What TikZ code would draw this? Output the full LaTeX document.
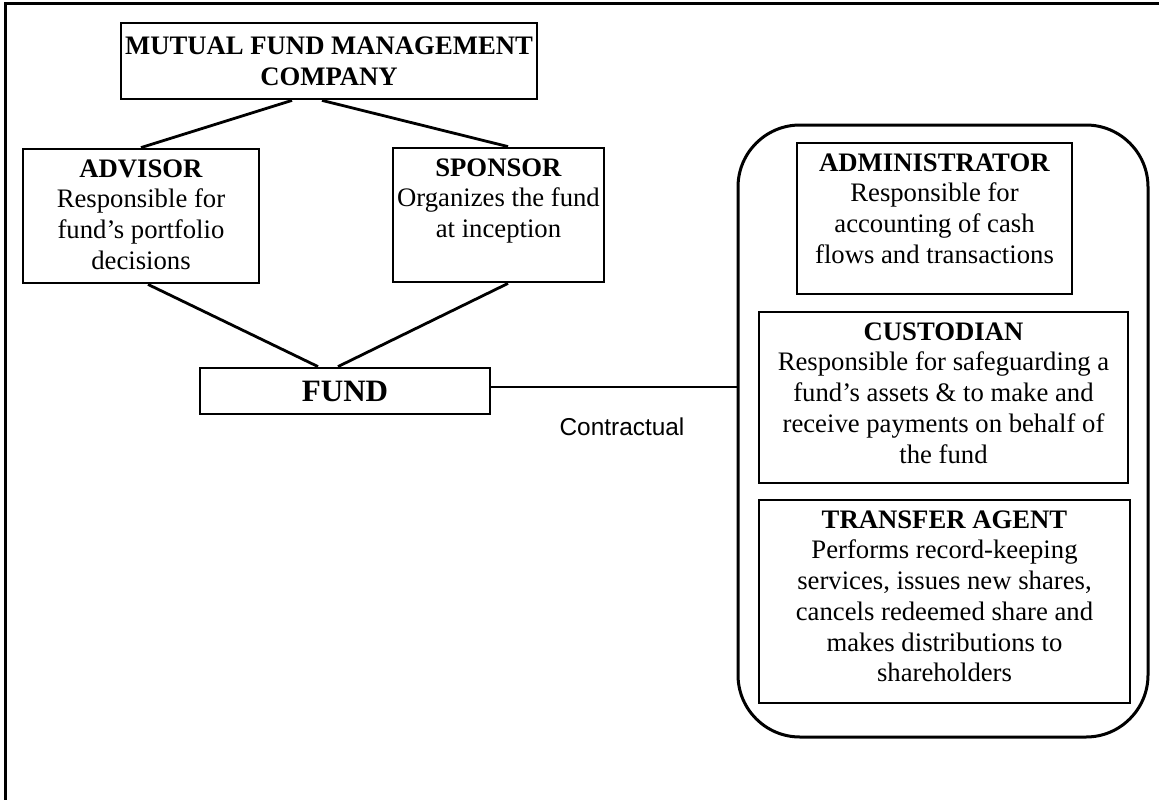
\documentclass[tikz,border=0pt]{standalone}
\usepackage{fontspec}
\setmainfont{Liberation Serif}
\newfontfamily\labelsans{Liberation Sans}
\begin{document}
\begin{tikzpicture}[x=1pt, y=-1pt]
\tikzset{
  boxframe/.style={draw, rectangle, line width=2.8pt, inner sep=0pt},
  bodytext/.style={inner sep=0pt, align=center, font=\fontsize{26.7}{30.7}\selectfont},
  link/.style={line width=2.8pt},
}
\useasboundingbox (0,0) rectangle (1159,800);

% page rule along the top and left edges
\draw[line width=3pt] (5,800) -- (5,4) -- (1159,4);

% management company
\node[boxframe, minimum width=416pt, minimum height=76pt, bodytext, font=\fontsize{26.7}{30.7}\selectfont\bfseries]
  (mfmc) at (329,61) {MUTUAL FUND MANAGEMENT\\COMPANY};

% advisor and sponsor
\node[boxframe, minimum width=236pt, minimum height=134pt] (adv) at (141,216) {};
\node[bodytext, anchor=north] (advtext) at ([yshift=-8pt]adv.north)
  {\strut\textbf{ADVISOR}\\Responsible for\\fund’s portfolio\\decisions};

\node[boxframe, minimum width=211pt, minimum height=134pt] (spo) at (498.5,215) {};
\node[bodytext, anchor=north] (spotext) at ([yshift=-8pt]spo.north)
  {\strut\textbf{SPONSOR}\\Organizes the fund\\at inception};

% the fund
\node[boxframe, minimum width=290pt, minimum height=46pt, font=\fontsize{31.1}{35.8}\selectfont\bfseries]
  (fund) at (345,391) {FUND};

% service providers
\node[draw, rectangle, rounded corners=62pt, line width=3pt, minimum width=410pt, minimum height=612pt]
  (panel) at (943,431) {};

\node[boxframe, minimum width=275pt, minimum height=151pt] (adm) at (934.5,218.5) {};
\node[bodytext, anchor=north] (admtext) at ([yshift=-8pt]adm.north)
  {\strut\textbf{ADMINISTRATOR}\\Responsible for\\accounting of cash\\flows and transactions};

\node[boxframe, minimum width=369pt, minimum height=171pt] (cus) at (943.5,397.5) {};
\node[bodytext, anchor=north] (custext) at ([yshift=-8pt]cus.north)
  {\strut\textbf{CUSTODIAN}\\Responsible for safeguarding a\\fund’s assets \& to make and\\receive payments on behalf of\\the fund};

\node[boxframe, minimum width=371pt, minimum height=203pt] (tra) at (944.5,601.5) {};
\node[bodytext, anchor=north] (tratext) at ([yshift=-8pt]tra.north)
  {\strut\textbf{TRANSFER AGENT}\\Performs record-keeping\\services, issues new shares,\\cancels redeemed share and\\makes distributions to\\shareholders};

% connectors
\draw[link] ([xshift=-37pt]mfmc.south) -- (adv.north);
\draw[link] ([xshift=-7pt]mfmc.south) -- ([xshift=9.5pt]spo.north);
\draw[link] ([xshift=7pt]adv.south) -- ([xshift=-27pt]fund.north);
\draw[link] ([xshift=9.5pt]spo.south) -- ([xshift=-7pt]fund.north);
\draw[link] ([yshift=4pt]fund.east) -- ([yshift=4pt]fund.east -| panel.west);

\node[anchor=base, inner sep=0pt, font=\labelsans\fontsize{24.4}{28}\selectfont]
  (contract) at (622,435) {Contractual};
\end{tikzpicture}
\end{document}
